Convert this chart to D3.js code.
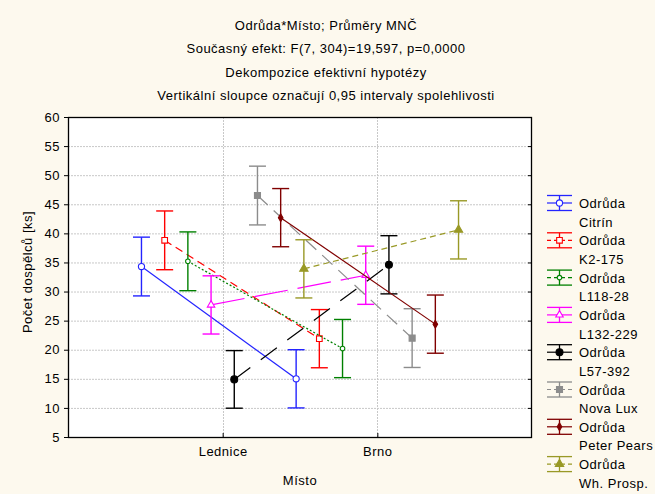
<!DOCTYPE html>
<html>
<head>
<meta charset="utf-8">
<script src="https://cdn.jsdelivr.net/npm/d3@7"></script>
<style>
  body { margin: 0; background: #fdf9ee; }
  text { font-family: "Liberation Sans", Arial, sans-serif; fill: #000; letter-spacing: 0.5px; }
</style>
</head>
<body>
<div id="chart-area"></div>
<script>
// data
var categories = ['Lednice', 'Brno'];
var varieties = ['Citrín', 'K2-175', 'L118-28', 'L132-229', 'L57-392', 'Nova Lux', 'Peter Pears', 'Wh. Prosp.'];
var meanLednice = [34.3, 38.8, 35.2, 27.7, 14.9, 46.5, 42.7, 33.9];
var meanBrno = [15.0, 21.9, 20.2, 32.8, 34.6, 22.0, 24.4, 40.6];
var ciLednice = [5.05, 5.05, 5.05, 5.0, 4.95, 5.05, 5.0, 5.0];
var ciBrno = [5.0, 5.0, 5.0, 5.0, 5.0, 5.05, 5.0, 5.0];
var yTicks = [5, 10, 15, 20, 25, 30, 35, 40, 45, 50, 55, 60];
var titleLines = [
  'Odrůda*Místo; Průměry MNČ',
  'Současný efekt: F(7, 304)=19,597, p=0,0000',
  'Dekompozice efektivní hypotézy',
  'Vertikální sloupce označují 0,95 intervaly spolehlivosti'
];

// styles per series
var colors = ['#2424ff', '#ff0000', '#008000', '#ff00ff', '#000000', '#8c8c8c', '#800000', '#999926'];
var dashes = [null, '8,5', '2,2', '34,10', '20,13', '14,8', null, '6,4'];
var shapes = [d3.symbolCircle, d3.symbolSquare, d3.symbolCircle, d3.symbolTriangle, d3.symbolCircle, d3.symbolSquare, d3.symbolDiamond, d3.symbolTriangle];
var sizes = [30, 32, 16, 24, 38, 36, 18, 30];
var filled = [false, false, false, false, true, true, true, true];

var W = 655, H = 494;
var plot = { left: 68, right: 532, top: 117, bottom: 437 };
var fontSize = '13px';

var svg = d3.select('#chart-area')
  .append('svg')
  .attr('width', W)
  .attr('height', H);

svg.append('rect')
  .attr('width', W)
  .attr('height', H)
  .attr('fill', '#fdf9ee');

// Title
svg.selectAll('.title')
  .data(titleLines)
  .enter()
  .append('text')
    .attr('class', 'title')
    .attr('x', 326)
    .attr('y', function(d, i) { return 30 + i * 23.3; })
    .attr('text-anchor', 'middle')
    .attr('font-size', fontSize)
    .text(function(d) { return d; });

// Scales
var x = d3.scaleLinear()
  .domain([0, 3])
  .range([plot.left, plot.right]);

var y = d3.scaleLinear()
  .domain([5, 60])
  .range([plot.bottom, plot.top]);

var step = 0.15;
function xPos(cat, i) {
  return x(cat + 1 + (i - 3.5) * step);
}

// plot area
svg.append('rect')
  .attr('x', plot.left)
  .attr('y', plot.top)
  .attr('width', plot.right - plot.left)
  .attr('height', plot.bottom - plot.top)
  .attr('fill', '#fff');

// grid
svg.selectAll('.hgrid')
  .data(yTicks.slice(1, -1))
  .enter()
  .append('line')
    .attr('x1', plot.left)
    .attr('x2', plot.right)
    .attr('y1', function(d) { return y(d) + 0.5; })
    .attr('y2', function(d) { return y(d) + 0.5; })
    .attr('stroke', '#c8c8c8')
    .attr('stroke-dasharray', '2,1');

svg.selectAll('.vgrid')
  .data(categories)
  .enter()
  .append('line')
    .attr('x1', function(d, i) { return Math.round(x(i + 1)) + 0.5; })
    .attr('x2', function(d, i) { return Math.round(x(i + 1)) + 0.5; })
    .attr('y1', plot.top)
    .attr('y2', plot.bottom)
    .attr('stroke', '#c8c8c8')
    .attr('stroke-dasharray', '2,1');

// Y Axis
var yAxisCall = d3.axisLeft(y)
  .tickValues(yTicks)
  .tickSize(4)
  .tickPadding(4);
var yAxisGroup = svg.append('g')
  .attr('transform', 'translate(' + plot.left + ', 0)')
  .call(yAxisCall);
yAxisGroup.select('.domain').remove();
yAxisGroup.selectAll('text').attr('font-size', fontSize).attr('font-family', '"Liberation Sans", Arial, sans-serif');

// right side inner ticks
svg.selectAll('.rtick')
  .data(yTicks)
  .enter()
  .append('line')
    .attr('x1', plot.right - 4)
    .attr('x2', plot.right)
    .attr('y1', function(d) { return y(d) + 0.5; })
    .attr('y2', function(d) { return y(d) + 0.5; })
    .attr('stroke', '#000');

// X Axis
var xAxisCall = d3.axisBottom(x)
  .tickValues([1, 2])
  .tickFormat(function(d) { return categories[d - 1]; })
  .tickSize(-4)
  .tickPadding(10);
var xAxisGroup = svg.append('g')
  .attr('transform', 'translate(0, ' + plot.bottom + ')')
  .call(xAxisCall);
xAxisGroup.select('.domain').remove();
xAxisGroup.selectAll('text').attr('font-size', fontSize).attr('font-family', '"Liberation Sans", Arial, sans-serif');

// frame
svg.append('rect')
  .attr('x', plot.left + 0.5)
  .attr('y', plot.top + 0.5)
  .attr('width', plot.right - plot.left - 1)
  .attr('height', plot.bottom - plot.top)
  .attr('fill', 'none')
  .attr('stroke', '#000')
  .attr('stroke-width', 1.3);

// axis labels
svg.append('text')
  .attr('x', (plot.left + plot.right) / 2)
  .attr('y', 485)
  .attr('text-anchor', 'middle')
  .attr('font-size', fontSize)
  .text('Místo');

svg.append('text')
  .attr('transform', 'translate(32, ' + 272 + ') rotate(-90)')
  .attr('text-anchor', 'middle')
  .attr('font-size', fontSize)
  .text('Počet dospělců [ks]');

// series
var series = varieties.map(function(v, i) {
  return {
    name: v, i: i,
    pts: [
      { cat: 0, mean: meanLednice[i], ci: ciLednice[i] },
      { cat: 1, mean: meanBrno[i], ci: ciBrno[i] }
    ]
  };
});

var sg = svg.selectAll('.series')
  .data(series)
  .enter()
  .append('g')
    .attr('class', 'series');

var line = d3.line()
  .x(function(d) { return xPos(d.cat, d.i); })
  .y(function(d) { return y(d.mean); });

sg.append('path')
  .attr('d', function(s) {
    return line(s.pts.map(function(p) { return { cat: p.cat, i: s.i, mean: p.mean }; }));
  })
  .attr('fill', 'none')
  .attr('stroke', function(s) { return colors[s.i]; })
  .attr('stroke-width', 1.2)
  .attr('stroke-dasharray', function(s) { return dashes[s.i]; });

sg.each(function(s) {
  var g = d3.select(this);
  s.pts.forEach(function(p) {
    var cx = xPos(p.cat, s.i);
    var y1 = y(p.mean + p.ci), y2 = y(p.mean - p.ci);
    g.append('line')
      .attr('x1', cx).attr('x2', cx)
      .attr('y1', y1).attr('y2', y2)
      .attr('stroke', colors[s.i]).attr('stroke-width', 1.4);
    [y1, y2].forEach(function(yy) {
      g.append('line')
        .attr('x1', cx - 8.5).attr('x2', cx + 8.5)
        .attr('y1', yy).attr('y2', yy)
        .attr('stroke', colors[s.i]).attr('stroke-width', 1.4);
    });
    g.append('path')
      .attr('transform', 'translate(' + cx + ',' + y(p.mean) + ')')
      .attr('d', d3.symbol().type(shapes[s.i]).size(sizes[s.i]))
      .attr('fill', filled[s.i] ? colors[s.i] : '#fff')
      .attr('stroke', colors[s.i])
      .attr('stroke-width', 1.1);
  });
});

// Legend
var legend = svg.selectAll('.legend')
  .data(series)
  .enter()
  .append('g')
    .attr('class', 'legend')
    .attr('transform', function(d, i) { return 'translate(547, ' + (203 + i * 37.3) + ')'; });

legend.each(function(s) {
  var g = d3.select(this);
  [-7.5, 7.5].forEach(function(yy) {
    g.append('line')
      .attr('x1', 0).attr('x2', 25)
      .attr('y1', yy).attr('y2', yy)
      .attr('stroke', colors[s.i]).attr('stroke-width', 1.3);
  });
  g.append('line')
    .attr('x1', 12.5).attr('x2', 12.5)
    .attr('y1', -7.5).attr('y2', 7.5)
    .attr('stroke', colors[s.i]).attr('stroke-width', 1.3);
  g.append('line')
    .attr('x1', 0).attr('x2', 25)
    .attr('y1', 0).attr('y2', 0)
    .attr('stroke', colors[s.i]).attr('stroke-width', 1.2)
    .attr('stroke-dasharray', dashes[s.i] ? (s.i === 3 || s.i === 4 ? null : '4,3') : null);
  g.append('path')
    .attr('transform', 'translate(12.5,0)')
    .attr('d', d3.symbol().type(shapes[s.i]).size(sizes[s.i]))
    .attr('fill', filled[s.i] ? colors[s.i] : '#fff')
    .attr('stroke', colors[s.i])
    .attr('stroke-width', 1.1);
  g.append('text')
    .attr('x', 32)
    .attr('y', 5)
    .attr('font-size', fontSize)
    .text('Odrůda');
  g.append('text')
    .attr('x', 32)
    .attr('y', 23.7)
    .attr('font-size', fontSize)
    .text(s.name);
});
</script>
</body>
</html>
